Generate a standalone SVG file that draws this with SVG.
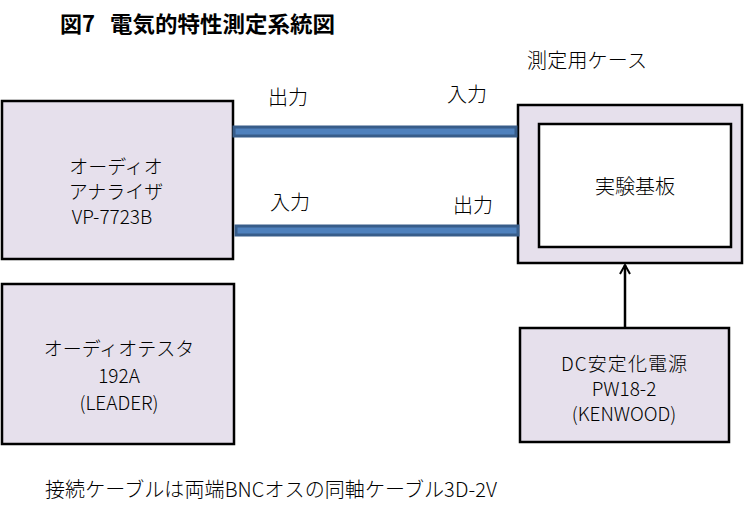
<svg xmlns="http://www.w3.org/2000/svg" width="746" height="524" viewBox="0 0 746 524">
<style>
text{font-family:"Noto Sans CJK JP","Liberation Sans",sans-serif;font-size:19px;fill:#000;font-weight:300}
.c{text-anchor:middle}
.l{font-size:20px}
.t{font-size:22px;font-weight:bold}
.box{fill:#e6e0ec;stroke:#000;stroke-width:2.5}
.cable{fill:#4f81bd;stroke:#385d8a;stroke-width:3}
</style>
<defs>
<marker id="ah" viewBox="0 0 12 12" refX="10" refY="6" markerWidth="12" markerHeight="12" markerUnits="userSpaceOnUse" orient="auto">
<path d="M1,1 L10,6 L1,11" fill="none" stroke="#000" stroke-width="2"/>
</marker>
</defs>
<rect width="746" height="524" fill="#fff"/>
<text class="t" x="60" y="32">図7</text>
<text class="t" x="110" y="32" textLength="225" lengthAdjust="spacingAndGlyphs">電気的特性測定系統図</text>
<text class="l" x="527" y="68" textLength="120">測定用ケース</text>
<g id="analyzer">
<rect class="box" x="2" y="101" width="231" height="158"/>
<text class="c" x="116" y="174">オーディオ</text>
<text class="c" x="116" y="199">アナライザ</text>
<text class="c" x="112" y="224">VP-7723B</text>
</g>
<g id="tester">
<rect class="box" x="2" y="284" width="232" height="160"/>
<text class="c" x="119" y="356">オーディオテスタ</text>
<text class="c" x="119" y="383">192A</text>
<text class="c" x="119" y="410">(LEADER)</text>
</g>
<g id="case">
<rect class="box" x="518" y="105" width="224" height="158"/>
<rect x="539" y="124" width="192" height="123" fill="#fff" stroke="#000" stroke-width="2.5"/>
<text class="c l" x="635" y="194">実験基板</text>
</g>
<g id="power">
<rect class="box" x="520" y="328" width="209" height="114"/>
<text class="c" x="624" y="371" textLength="126">DC安定化電源</text>
<text class="c" x="624" y="396">PW18-2</text>
<text class="c" x="624" y="421">(KENWOOD)</text>
</g>
<g id="connectors">
<rect class="cable" x="234" y="127" width="282" height="9"/>
<rect class="cable" x="236" y="226" width="282" height="9"/>
<line x1="625" y1="328" x2="625" y2="265" stroke="#000" stroke-width="2.5" marker-end="url(#ah)"/>
</g>
<text class="l" x="268" y="105">出力</text>
<text class="l" x="447" y="102">入力</text>
<text class="l" x="270" y="210">入力</text>
<text class="l" x="453" y="213">出力</text>
<text class="l" x="45" y="497" textLength="452">接続ケーブルは両端BNCオスの同軸ケーブル3D-2V</text>
</svg>
